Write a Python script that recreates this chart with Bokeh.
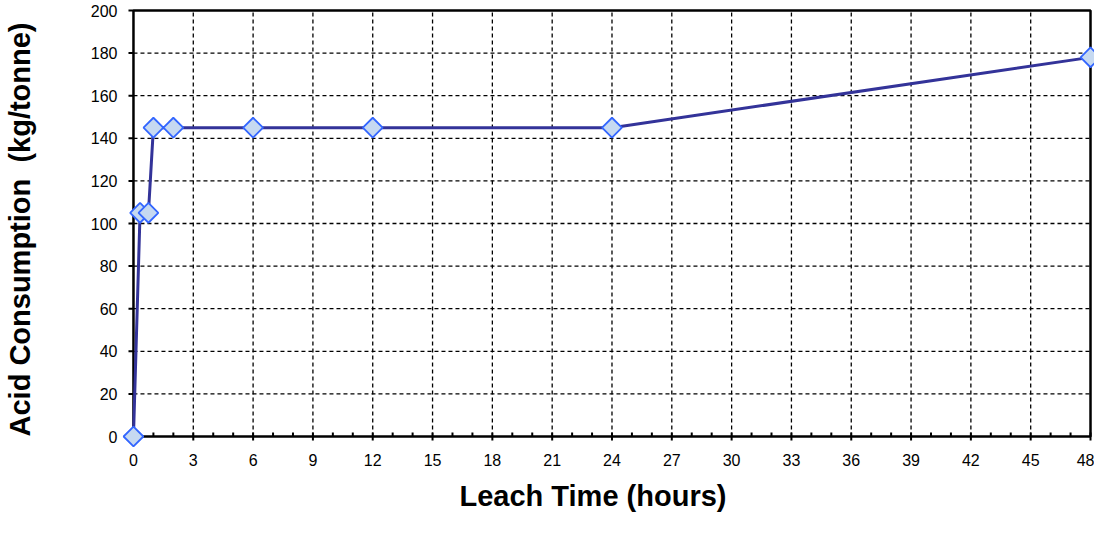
from bokeh.plotting import figure
from bokeh.models import Range1d, FixedTicker, ColumnDataSource, Title
from bokeh.embed import file_html
from bokeh.resources import INLINE

time_h = [0, 0.33, 0.75, 1, 2, 6, 12, 24, 48]
acid = [0, 105, 105, 145, 145, 145, 145, 145, 178]
x_ticks = list(range(0, 49, 3))
x_minor = list(range(0, 49, 1))
y_ticks = list(range(0, 201, 20))
x_min, x_max = 0, 48
y_min, y_max = 0, 200
x_title = "Leach Time (hours)"
y_title = "Acid Consumption\u00a0 (kg/tonne)"

src = ColumnDataSource(dict(x=time_h, y=acid))

# data box geometry (pixels) and small padding so edge markers are not clipped
box_l, box_r, box_t, box_b = 131, 1090, 10, 436
W, H = 1094, 524
pad_l, pad_r, pad_b, pad_t = 14, 4, 14, 2
px_x = (box_r - box_l) / (x_max - x_min)
px_y = (box_b - box_t) / (y_max - y_min)
p = figure(width=W, height=H, output_backend="svg", toolbar_location=None,
           x_range=Range1d(x_min - pad_l / px_x, x_max + pad_r / px_x),
           y_range=Range1d(y_min - pad_b / px_y, y_max + pad_t / px_y),
           min_border_left=box_l - pad_l, min_border_right=W - box_r - pad_r,
           min_border_top=box_t - pad_t, min_border_bottom=H - box_b - pad_b)
p.background_fill_color = "white"
p.border_fill_color = "white"
p.outline_line_color = None
p.xgrid.visible = False
p.ygrid.visible = False

# grid lines (dashed)
vx = [t for t in x_ticks if x_min < t < x_max]
hy = [t for t in y_ticks if y_min < t < y_max]
p.segment(x0=vx, y0=[y_min] * len(vx), x1=vx, y1=[y_max] * len(vx),
          line_color="black", line_dash="4 3", line_width=1.3)
p.segment(x0=[x_min] * len(hy), y0=hy, x1=[x_max] * len(hy), y1=hy,
          line_color="black", line_dash="4 3", line_width=1.3)

# tick marks drawn at the data box edges
p.segment(x0=[x_min - 5 / px_x] * len(y_ticks), y0=y_ticks, x1=[x_min] * len(y_ticks), y1=y_ticks,
          line_color="black", line_width=2)
p.segment(x0=x_ticks, y0=[y_min - 4 / px_y] * len(x_ticks), x1=x_ticks, y1=[y_min + 4 / px_y] * len(x_ticks),
          line_color="black", line_width=2)
xm = [t for t in x_minor if t not in x_ticks]
p.segment(x0=xm, y0=[y_min] * len(xm), x1=xm, y1=[y_min + 4 / px_y] * len(xm),
          line_color="black", line_width=2)

# plot box
p.quad(left=[x_min], right=[x_max], bottom=[y_min], top=[y_max],
       fill_color=None, line_color="black", line_width=2.5)

p.line("x", "y", source=src, line_color="#333399", line_width=3)
p.scatter("x", "y", source=src, marker="square", angle=0.785398, size=14,
          fill_color="#C6D9F1", line_color="#3366FF", line_width=1.8)

p.xaxis.ticker = FixedTicker(ticks=x_ticks)
p.yaxis.ticker = FixedTicker(ticks=y_ticks)

for ax in (p.xaxis[0], p.yaxis[0]):
    ax.axis_line_color = None
    ax.major_tick_line_color = None
    ax.minor_tick_line_color = None
    ax.major_tick_in = 0
    ax.major_tick_out = 0
    ax.minor_tick_in = 0
    ax.minor_tick_out = 0
    ax.major_label_text_font = "Liberation Sans"
    ax.major_label_text_font_size = "16px"
    ax.major_label_text_color = "black"
    ax.axis_label_text_font = "Liberation Sans"
    ax.axis_label_text_font_style = "bold"
    ax.axis_label_text_font_size = "29px"
    ax.axis_label_text_color = "black"

p.xaxis.major_label_standoff = 3
p.yaxis.major_label_standoff = 2
p.yaxis.axis_label = y_title
p.yaxis.axis_label_standoff = 52

xlabel = Title(text=x_title, align="left", offset=340, standoff=19,
               text_font="Liberation Sans", text_font_style="bold", text_font_size="29px",
               text_color="black", vertical_align="bottom")
p.add_layout(xlabel, "below")

open("out.html", "w").write(file_html(p, INLINE))
